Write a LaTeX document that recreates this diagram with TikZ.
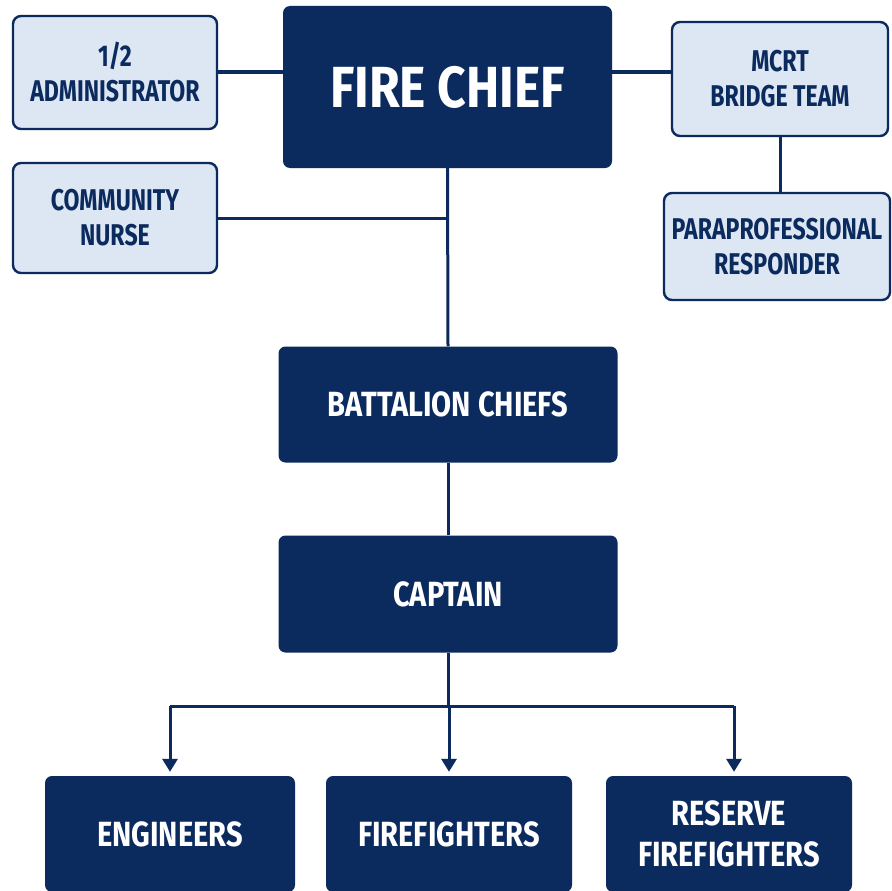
\documentclass[tikz,border=0pt]{standalone}
\usepackage{fontspec}
\setmainfont{Fira Sans}[FakeStretch=0.83]
\newfontfamily\staffsans{Fira Sans}[FakeStretch=0.77]
\newfontfamily\headsans{Fira Sans}[FakeStretch=0.86]
\usetikzlibrary{arrows.meta}
\definecolor{navy}{HTML}{0B2A5E}
\definecolor{paleblue}{HTML}{DDE7F3}

\begin{document}
\begin{tikzpicture}[x=1pt, y=-1pt,
	darkbox/.style={draw=none, fill=navy, rounded corners=7pt, text=white, font=\bfseries\fontsize{35}{41}\selectfont, align=center, inner sep=0pt},
	lightbox/.style={draw=navy, line width=2.4pt, fill=paleblue, rounded corners=8pt, text=navy, font=\staffsans\bfseries\fontsize{30}{35}\selectfont, align=center, inner sep=0pt},
	link/.style={draw=navy, line width=3pt},
	]
			%%%%% START %%%%%
			\clip (0, 0) rectangle (891, 891);
			\fill[white] (0, 0) rectangle (891, 891);
			
			\node[darkbox, minimum width=329pt, minimum height=162pt, font=\headsans\bfseries\fontsize{58}{62}\selectfont] (chief) at (447.5, 87) {FIRE CHIEF};
			
			\node[lightbox, minimum width=204pt, minimum height=113pt] (admin) at (115, 72.5) {1/2\\ADMINISTRATOR};
			\node[lightbox, minimum width=204pt, minimum height=110pt] (nurse) at (115, 218) {COMMUNITY\\NURSE};
			\node[lightbox, minimum width=216pt, minimum height=114pt] (mcrt) at (780, 79) {MCRT\\BRIDGE TEAM};
			\node[lightbox, minimum width=226pt, minimum height=107pt] (para) at (777, 246.5) {PARAPROFESSIONAL\\RESPONDER};
			
			\node[darkbox, minimum width=339pt, minimum height=116pt] (battalion) at (448, 404.5) {BATTALION CHIEFS};
			\node[darkbox, minimum width=339pt, minimum height=117pt] (captain) at (448, 594) {CAPTAIN};
			
			\node[darkbox, minimum width=250pt, minimum height=116pt] (engineers) at (170, 834) {ENGINEERS};
			\node[darkbox, minimum width=246pt, minimum height=116pt] (firefighters) at (449, 834) {FIREFIGHTERS};
			\node[darkbox, minimum width=246pt, minimum height=116pt] (reserve) at (729, 834) {RESERVE\\FIREFIGHTERS};
			
			\coordinate (staff) at (0, 72);
			\coordinate (bus) at (0, 706);
			\coordinate (engineersin) at (engineers.north);
			\coordinate (firefightersin) at (firefighters.north);
			\coordinate (reservein) at ([xshift=5pt]reserve.north);
			
			\draw[link] (admin.east |- staff) -- (chief.west |- staff);
			\draw[link] (chief.east |- staff) -- (mcrt.west |- staff);
			\draw[link] (mcrt.south) -- (para.north -| mcrt.south);
			\draw[link] (nurse.east) -- (nurse.east -| chief.south);
			\draw[link] (chief.south) -- (battalion.north);
			\draw[link] (battalion.south) -- (captain.south |- captain.north);
			
			\draw[link] (captain.south) -- (captain.south |- bus);
			\draw[link] (engineersin |- bus) -- (reservein |- bus);
			\foreach \crew in {engineers, firefighters, reserve}
				\draw[link, -{Triangle[width=15pt, length=13pt]}, shorten >=4pt] (\crew in |- bus) -- (\crew in);
			
			%%%%% END %%%%%
		\end{tikzpicture}
\end{document}
